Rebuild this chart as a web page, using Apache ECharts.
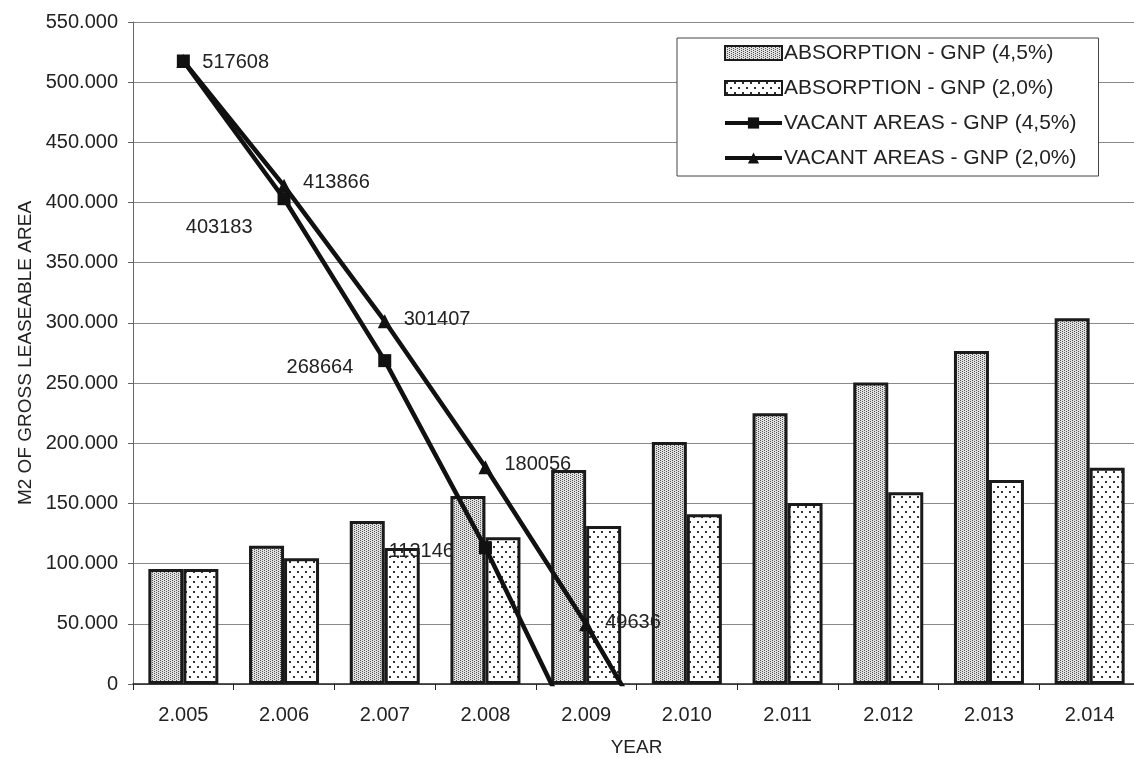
<!DOCTYPE html>
<html>
<head>
<meta charset="utf-8">
<script src="https://cdn.jsdelivr.net/npm/echarts@6/dist/echarts.min.js"></script>
<style>
  html, body { margin: 0; padding: 0; background: #fff; }
  #chart { width: 1134px; height: 758px; }
</style>
</head>
<body>
<div id="chart"></div>
<script>
// Years on the category axis
const years = ['2.005', '2.006', '2.007', '2.008', '2.009', '2.010', '2.011', '2.012', '2.013', '2.014'];

// Yearly absorption (m2) under two GNP growth scenarios
const absorption45 = [95500, 114900, 135400, 156200, 177800, 201000, 225000, 250400, 276700, 303800];
const absorption20 = [95500, 104400, 113000, 121900, 131300, 141000, 150400, 159300, 169500, 179700];

// Remaining vacant areas (m2); the stock runs out during the year after the last positive value
const vacant45 = [517608, 403183, 268664, 113146, -59500, null, null, null, null, null];
const vacant20 = [517608, 413866, 301407, 180056, 49636, -93400, null, null, null, null];

// Series names
const names = [
  'ABSORPTION - GNP (4,5%)',
  'ABSORPTION - GNP (2,0%)',
  'VACANT AREAS - GNP (4,5%)',
  'VACANT AREAS - GNP (2,0%)'
];

// Label placement for the vacant-area values (pixel offsets)
const vacant45LabelOffsets = [null, [0, 29], [0, 7], [0, 4], null];
const vacant20LabelOffsets = [[0, 1], [0, -3], [0, -2], [0, -3], [0, -2], null];

const FONT = '"Liberation Sans", Arial, sans-serif';
const TEXT = '#222';

// Stipple fills for the bars
function makePattern(w, h, bg, dots) {
  const c = document.createElement('canvas');
  c.width = w; c.height = h;
  const ctx = c.getContext('2d');
  ctx.fillStyle = bg;
  ctx.fillRect(0, 0, w, h);
  dots.forEach(d => {
    ctx.fillStyle = d[2];
    ctx.fillRect(d[0], d[1], d[3] || 1, d[4] || 1);
  });
  return c;
}
const densePattern = makePattern(4, 2, '#e0e0e0', [[0, 0, '#555'], [2, 1, '#555']]);
const sparsePattern = makePattern(8, 10, '#ffffff', [[1, 1, '#333', 2, 2], [5, 6, '#333', 2, 2]]);

function lineData(values, offsets, position) {
  return values.map((v, i) => {
    const off = offsets[i];
    if (v === null) return null;
    if (!off) return { value: v, label: { show: false } };
    return { value: v, label: { show: true, position: position, offset: off } };
  });
}

const chart = echarts.init(document.getElementById('chart'), null, { renderer: 'canvas' });

chart.setOption({
  animation: false,
  backgroundColor: '#ffffff',
  textStyle: { fontFamily: FONT, color: TEXT },
  grid: {
    left: 133, top: 22, width: 1007, height: 662,
    containLabel: false,
    outerBoundsMode: 'none'
  },
  legend: {
    orient: 'vertical',
    left: 677,
    top: 38,
    padding: [3, 22, 6, 46],
    itemGap: 11,
    itemWidth: 57,
    itemHeight: 14,
    borderColor: '#444',
    borderWidth: 1,
    backgroundColor: '#fff',
    textStyle: { fontFamily: FONT, fontSize: 21, color: TEXT, lineHeight: 24, padding: [0, 0, 0, -3] },
    data: [
      { name: names[0], icon: 'rect', itemStyle: { borderWidth: 2 } },
      { name: names[1], icon: 'rect', itemStyle: { borderWidth: 2 } },
      { name: names[2], lineStyle: { width: 4, color: '#111' } },
      { name: names[3], lineStyle: { width: 4, color: '#111' } }
    ]
  },
  xAxis: {
    type: 'category',
    data: years,
    name: 'YEAR',
    nameLocation: 'middle',
    nameGap: 54,
    nameTextStyle: { fontFamily: FONT, fontSize: 19, color: TEXT },
    axisLine: { lineStyle: { color: '#222', width: 1.5 } },
    axisTick: { show: true, length: 6, lineStyle: { color: '#222' } },
    axisLabel: { fontFamily: FONT, fontSize: 20, color: TEXT, margin: 21 }
  },
  yAxis: {
    type: 'value',
    min: 0,
    max: 550000,
    interval: 50000,
    name: 'M2 OF GROSS LEASEABLE AREA',
    nameLocation: 'middle',
    nameGap: 83,
    nameTextStyle: { fontFamily: FONT, fontSize: 19, color: TEXT },
    axisLine: { show: true, lineStyle: { color: '#666', width: 1 } },
    axisTick: { show: true, length: 5, lineStyle: { color: '#666' } },
    axisLabel: {
      fontFamily: FONT, fontSize: 20, color: TEXT, margin: 15,
      formatter: v => v === 0 ? '0' : (v / 1000) + '.000'
    },
    splitLine: { show: true, lineStyle: { color: '#8a8a8a', width: 1 } }
  },
  series: [
    {
      name: names[0],
      type: 'bar',
      data: absorption45,
      barWidth: 35,
      barGap: '0%',
      itemStyle: {
        color: { image: densePattern, repeat: 'repeat' },
        borderColor: '#1a1a1a',
        borderWidth: 3
      },
      z: 2
    },
    {
      name: names[1],
      type: 'bar',
      data: absorption20,
      barWidth: 35,
      barGap: '0%',
      itemStyle: {
        color: { image: sparsePattern, repeat: 'repeat' },
        borderColor: '#1a1a1a',
        borderWidth: 3
      },
      z: 2
    },
    {
      name: names[2],
      type: 'line',
      data: lineData(vacant45, vacant45LabelOffsets, 'left'),
      clip: true,
      symbol: 'rect',
      symbolSize: 13,
      showAllSymbol: true,
      lineStyle: { color: '#111', width: 4.5 },
      itemStyle: { color: '#111' },
      label: { fontFamily: FONT, fontSize: 20, color: TEXT, distance: 25 },
      z: 5
    },
    {
      name: names[3],
      type: 'line',
      data: lineData(vacant20, vacant20LabelOffsets, 'right'),
      clip: true,
      symbol: 'triangle',
      symbolSize: 14,
      showAllSymbol: true,
      lineStyle: { color: '#111', width: 4.5 },
      itemStyle: { color: '#111' },
      label: { fontFamily: FONT, fontSize: 20, color: TEXT, distance: 12 },
      z: 6
    }
  ]
});
</script>
</body>
</html>
